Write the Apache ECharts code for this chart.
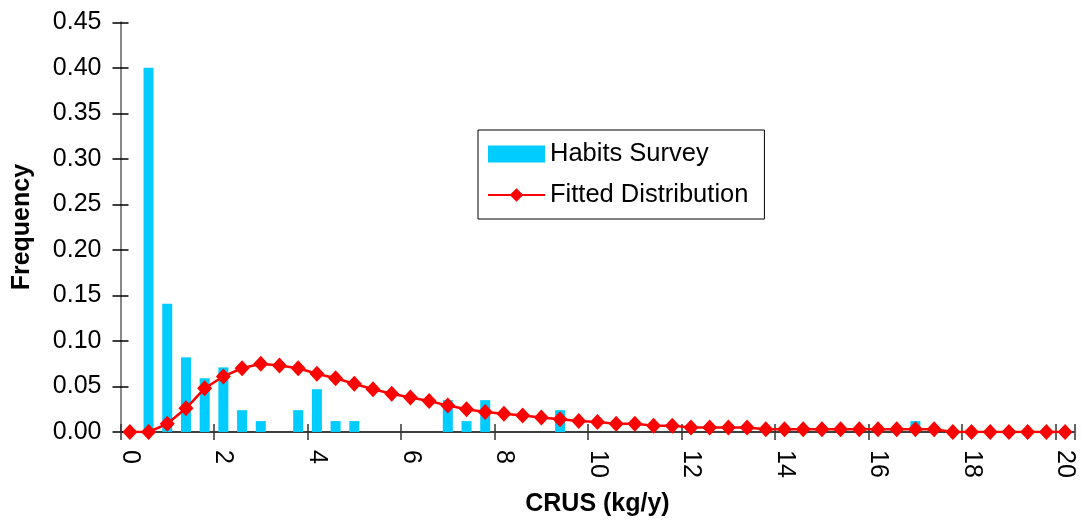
<!DOCTYPE html>
<html>
<head>
<meta charset="utf-8">
<script src="https://cdn.jsdelivr.net/npm/echarts@6/dist/echarts.min.js"></script>
<style>
html,body{margin:0;padding:0;background:#fff;}
#chart{width:1082px;height:522px;}
</style>
</head>
<body>
<div id="chart"></div>
<script>
var categories = ['0','0.4','0.8','1.2','1.6','2','2.4','2.8','3.2','3.6',
  '4','4.4','4.8','5.2','5.6','6','6.4','6.8','7.2','7.6',
  '8','8.4','8.8','9.2','9.6','10','10.4','10.8','11.2','11.6',
  '12','12.4','12.8','13.2','13.6','14','14.4','14.8','15.2','15.6',
  '16','16.4','16.8','17.2','17.6','18','18.4','18.8','19.2','19.6','20'];

var habitsSurvey = [null,0.400,0.141,0.082,0.059,0.071,0.024,0.012,null,0.024,
  0.047,0.012,0.012,null,null,null,null,0.035,0.012,0.035,
  null,null,null,0.024,null,null,null,null,null,null,
  null,null,null,null,null,null,null,null,null,null,
  null,null,0.012,null,null,null,null,null,null,null,null];

var fittedDistribution = [0.000,0.000,0.009,0.026,0.048,0.061,0.070,0.075,0.073,0.070,
  0.064,0.059,0.053,0.047,0.042,0.038,0.034,0.029,0.025,0.022,
  0.020,0.018,0.016,0.014,0.012,0.011,0.009,0.009,0.007,0.007,
  0.005,0.005,0.005,0.005,0.003,0.003,0.003,0.003,0.003,0.003,
  0.003,0.003,0.003,0.003,0.000,0.000,0.000,0.000,0.000,0.000,0.000];

var xTickLabels = ['0','2','4','6','8','10','12','14','16','18','20'];

var FONT = "'Liberation Sans', Arial, sans-serif";

var chart = echarts.init(document.getElementById('chart'), null, {renderer:'canvas'});
chart.setOption({
  animation: false,
  backgroundColor: '#ffffff',
  textStyle: {fontFamily: FONT},
  grid: {left: 120.5, top: 22.3, right: 7.6, bottom: 89.3, containLabel: false},
  legend: {
    orient: 'vertical',
    left: 478, top: 130,
    padding: [11, 16, 11, 9],
    borderColor: '#000', borderWidth: 1,
    backgroundColor: '#fff',
    itemWidth: 57, itemHeight: 17, itemGap: 15,
    textStyle: {fontFamily: FONT, fontSize: 25.5, color: '#000', lineHeight: 24},
    data: [
      {name: 'Habits Survey', icon: 'rect'},
      {name: 'Fitted Distribution'}
    ]
  },
  xAxis: [{
    type: 'category',
    data: categories,
    boundaryGap: true,
    position: 'bottom',
    name: 'CRUS (kg/y)',
    nameLocation: 'middle',
    nameGap: 60,
    nameTextStyle: {fontFamily: FONT, fontSize: 25, fontWeight: 'bold', color: '#000'},
    axisLine: {show: true, lineStyle: {color: '#000', width: 1.5}},
    axisTick: {show: true, interval: 4, length: 8, lineStyle: {color: '#333', width: 1.5}},
    axisLabel: {
      interval: 4, rotate: -90, margin: 18,
      fontFamily: FONT, fontSize: 25, color: '#000',
      formatter: function (v, i) { return xTickLabels[i / 5]; }
    },
    splitLine: {show: false}
  }, {
    type: 'category',
    data: categories,
    boundaryGap: true,
    position: 'bottom',
    axisLine: {show: false},
    axisTick: {show: true, inside: true, interval: 4, length: 8, lineStyle: {color: '#333', width: 1.5}},
    axisLabel: {show: false},
    splitLine: {show: false}
  }],
  yAxis: [{
    type: 'value',
    min: 0, max: 0.45, interval: 0.05,
    position: 'left',
    name: 'Frequency',
    nameLocation: 'middle',
    nameGap: 86,
    nameRotate: 90,
    nameTextStyle: {fontFamily: FONT, fontSize: 25, fontWeight: 'bold', color: '#000'},
    axisLine: {show: true, lineStyle: {color: '#888', width: 2}},
    axisTick: {show: true, length: 8, lineStyle: {color: '#000', width: 1.5}},
    axisLabel: {
      margin: 19, fontFamily: FONT, fontSize: 25, color: '#000',
      formatter: function (v) { return v.toFixed(2); }
    },
    splitLine: {show: false}
  }, {
    type: 'value',
    min: 0, max: 0.45, interval: 0.05,
    position: 'left',
    axisLine: {show: false},
    axisTick: {show: true, inside: true, length: 8, lineStyle: {color: '#000', width: 1.5}},
    axisLabel: {show: false},
    splitLine: {show: false}
  }],
  series: [{
    name: 'Habits Survey',
    type: 'bar',
    xAxisIndex: 0, yAxisIndex: 0,
    data: habitsSurvey,
    barWidth: 10,
    itemStyle: {color: '#00CCFF'},
    z: 2
  }, {
    name: 'Fitted Distribution',
    type: 'line',
    xAxisIndex: 0, yAxisIndex: 0,
    data: fittedDistribution,
    symbol: 'diamond',
    symbolSize: [15, 16],
    showAllSymbol: true,
    lineStyle: {color: '#FF0000', width: 2.5},
    itemStyle: {color: '#FF0000'},
    z: 3
  }]
});
</script>
</body>
</html>
